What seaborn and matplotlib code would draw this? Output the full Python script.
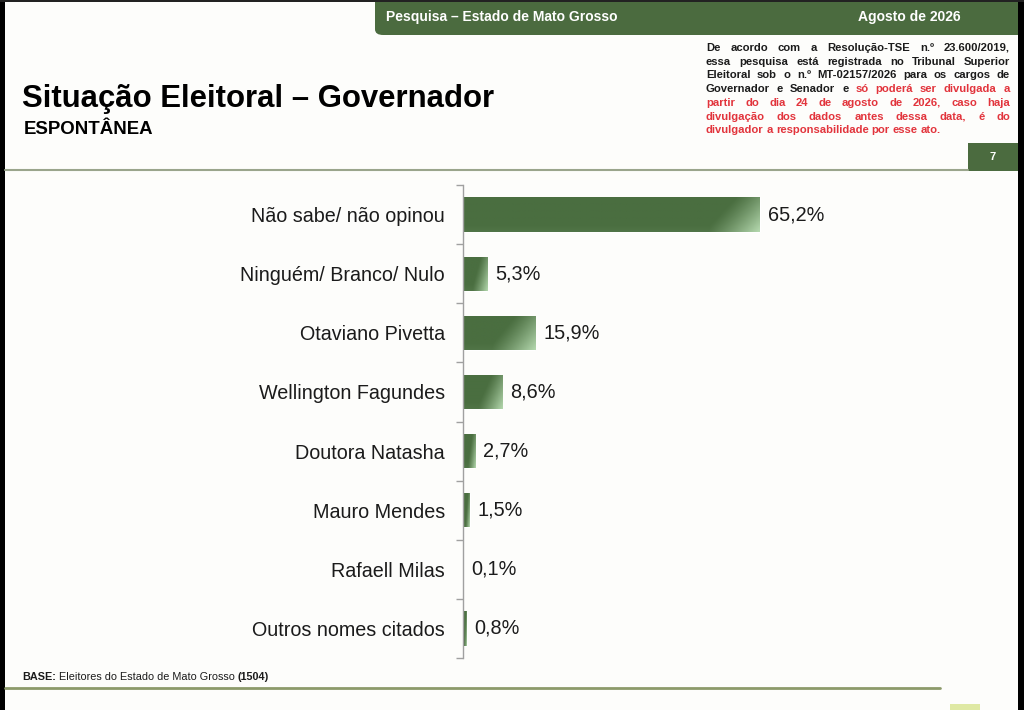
import matplotlib
matplotlib.use("Agg")
import matplotlib.pyplot as plt
import seaborn as sns
import numpy as np
import pandas as pd
from matplotlib.patches import Rectangle, FancyBboxPatch
from matplotlib.lines import Line2D

# Data
categories = ["Não sabe/ não opinou", "Ninguém/ Branco/ Nulo", "Otaviano Pivetta",
              "Wellington Fagundes", "Doutora Natasha", "Mauro Mendes",
              "Rafaell Milas", "Outros nomes citados"]
values = [65.2, 5.3, 15.9, 8.6, 2.7, 1.5, 0.1, 0.8]
value_labels = [f"{v:.1f}%".replace(".", ",") for v in values]

header_left = "Pesquisa – Estado de Mato Grosso"
header_right = "Agosto de 2026"
title = "Situação Eleitoral – Governador"
subtitle = "ESPONTÂNEA"
page_number = "7"
notice_lines = [
    [("De acordo com a Resolução-TSE n.º 23.600/2019,", "k")],
    [("essa pesquisa está registrada no Tribunal Superior", "k")],
    [("Eleitoral sob o n.º MT-02157/2026 para os cargos de", "k")],
    [("Governador e Senador e", "k"), ("só poderá ser divulgada a", "r")],
    [("partir do dia 24 de agosto de 2026, caso haja", "r")],
    [("divulgação dos dados antes dessa data, é do", "r")],
    [("divulgador a responsabilidade por esse ato.", "r")],
]
base_parts = [("BASE:", "bold"), (" Eleitores do Estado de Mato Grosso ", "normal"), ("(1504)", "bold")]

W, H = 1024, 710
DARK_GREEN = "#4b6b3f"
BAR_DARK = np.array([0x4a, 0x6e, 0x40]) / 255
BAR_LIGHT = np.array([0xb4, 0xd8, 0xae]) / 255
RED = "#e2343c"
TEXT = "#1b1b1b"
NARROW = ["Liberation Sans Narrow", "Liberation Sans", "DejaVu Sans"]

sns.set_theme(style="white")
plt.rcParams["font.family"] = ["Liberation Sans", "DejaVu Sans"]

fig = plt.figure(figsize=(W / 100, H / 100), dpi=100)
fig.patch.set_facecolor("#fdfdfb")


def fx(px):
    return px / W


def fy(py):
    return 1 - py / H


# frame / header decorations
fig.add_artist(FancyBboxPatch((fx(375), fy(35)), fx(700), 0.2,
                              boxstyle="round,pad=0,rounding_size=0.008",
                              transform=fig.transFigure, fc=DARK_GREEN, ec="none"))
fig.add_artist(Rectangle((0, 0), fx(5), 1, transform=fig.transFigure, fc="black", ec="none"))
fig.add_artist(Rectangle((fx(1018), 0), fx(10), 1, transform=fig.transFigure, fc="black", ec="none"))
fig.add_artist(Rectangle((0, fy(2)), 1, 0.01, transform=fig.transFigure, fc="#222222", ec="none"))
fig.text(fx(386), fy(17), header_left, color="white", fontsize=10, fontweight="bold",
         family=NARROW, va="center", ha="left")
fig.text(fx(961), fy(17), header_right, color="white", fontsize=10, fontweight="bold",
         family=NARROW, va="center", ha="right")

fig.text(fx(22), fy(107), title, fontsize=22.4, fontweight="bold", color="black", va="baseline")
fig.text(fx(24), fy(134), subtitle, fontsize=13.4, fontweight="bold", color="black", va="baseline")

fig.add_artist(Line2D([fx(5), fx(968)], [fy(170), fy(170)], transform=fig.transFigure,
                      color="#9aa58c", lw=1.5))
fig.add_artist(Rectangle((fx(968), fy(171)), fx(50), 28 / H, transform=fig.transFigure,
                         fc=DARK_GREEN, ec="none"))
fig.text(fx(993), fy(157), page_number, color="white", fontsize=8, fontweight="bold",
         family=NARROW, ha="center", va="center")

renderer = fig.canvas.get_renderer()

# justified notice text
x0, x1 = 706, 1010
for i, segs in enumerate(notice_lines):
    y = fy(51 + i * 13.7)
    words = []
    for txt, c in segs:
        for w in txt.split(" "):
            words.append((w, RED if c == "r" else TEXT))
    objs = [fig.text(0, y, w, color=c, fontsize=8.1, fontweight="bold", family=NARROW,
                     va="baseline", ha="left") for w, c in words]
    widths = [o.get_window_extent(renderer).width for o in objs]
    last = i == len(notice_lines) - 1
    if last or len(objs) == 1:
        gap = 3.0
    else:
        gap = (x1 - x0 - sum(widths)) / (len(objs) - 1)
    x = x0
    for o, w in zip(objs, widths):
        o.set_x(fx(x))
        x += w + gap

# base line text
x = 22
for txt, wt in base_parts:
    t = fig.text(fx(x), fy(680), txt, fontsize=7.8, fontweight=wt, family=NARROW,
                 color=TEXT, va="baseline", ha="left")
    x += t.get_window_extent(renderer).width
fig.add_artist(Line2D([fx(5), fx(940)], [fy(688), fy(688)], transform=fig.transFigure,
                      color="#8c9a6a", lw=2))
fig.add_artist(Rectangle((fx(950), 0), fx(30), 6 / H, transform=fig.transFigure,
                         fc="#dfe9a4", ec="none"))

# bar chart
ax_left, ax_right, ax_top, ax_bottom = 463, 1000, 185, 658
ax = fig.add_axes([fx(ax_left), fy(ax_bottom), fx(ax_right - ax_left), (ax_bottom - ax_top) / H])
ax.set_facecolor("none")
df = pd.DataFrame({"categoria": categories, "valor": values})
sns.barplot(data=df, x="valor", y="categoria", orient="h", color=DARK_GREEN,
            width=0.58, saturation=1, ax=ax)

px_per_unit = 297 / 65.2
xmax = (ax_right - ax_left) / px_per_unit
ax.set_xlim(0, xmax)
ax.set_ylim(len(categories) - 0.5, -0.5)

# diagonal gradient towards the lower right corner of each bar
for p in ax.patches:
    bx, by, bw, bh = p.get_x(), p.get_y(), p.get_width(), p.get_height()
    if bw <= 0:
        continue
    wpx = bw * px_per_unit
    light_px = min(50.0, 0.6 * wpx)
    u = np.linspace(0, 1, 160)[None, :]
    v = np.linspace(0, 1, 40)[:, None]
    start = 1 - light_px / wpx
    ru = np.clip((u - start) / (1 - start + 1e-9), 0, 1)
    t = np.clip(ru * 0.85 + v * 0.55 - 0.45, 0, 1) / 0.95
    t = np.clip(t, 0, 1) ** 1.2
    img = BAR_DARK[None, None, :] * (1 - t[..., None]) + BAR_LIGHT[None, None, :] * t[..., None]
    im = ax.imshow(img, extent=(bx, bx + bw, by + bh, by), origin="upper",
                   aspect="auto", zorder=p.get_zorder() + 0.1, interpolation="bilinear")
    im.set_clip_path(p)
ax.set_xlim(0, xmax)
ax.set_ylim(len(categories) - 0.5, -0.5)

for i, (v, lab) in enumerate(zip(values, value_labels)):
    ax.annotate(lab, (v, i), xytext=(5.5, 0), textcoords="offset points",
                va="center", ha="left", fontsize=14.3, color=TEXT)

ax.set_xlabel("")
ax.set_ylabel("")
ax.set_xticks([])
ax.set_yticks(range(len(categories)))
ax.set_yticklabels(categories, fontsize=14.2, color=TEXT)
ax.set_yticks(np.arange(-0.5, len(categories), 1), minor=True)
ax.tick_params(axis="y", which="major", length=0, pad=13)
ax.tick_params(axis="y", which="minor", length=5, width=1, color="#a0a0a0", left=True)
for s in ["top", "right", "bottom"]:
    ax.spines[s].set_visible(False)
ax.spines["left"].set_color("#a0a0a0")
ax.spines["left"].set_linewidth(1)

fig.savefig("out.png", dpi=100, facecolor=fig.get_facecolor())
